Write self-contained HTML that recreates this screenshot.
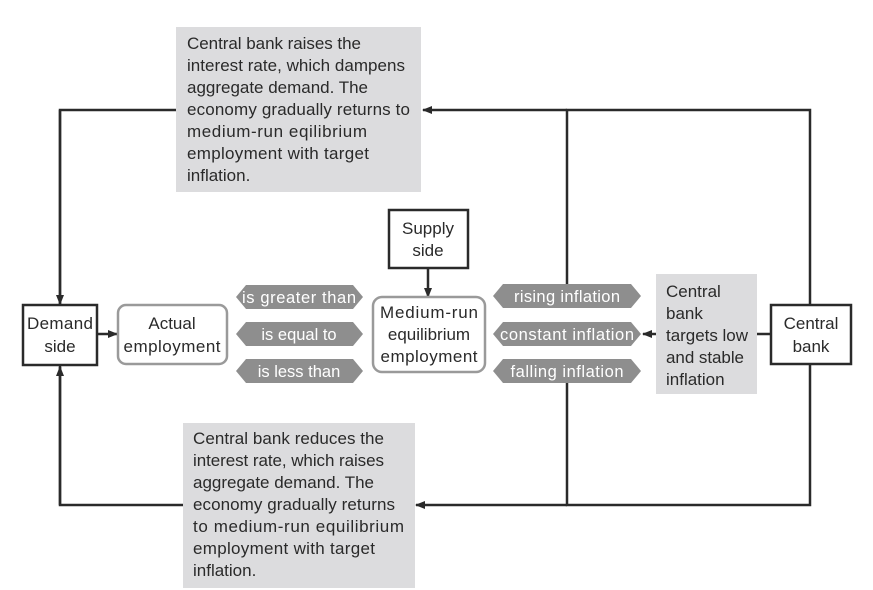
<!DOCTYPE html>
<html><head><meta charset="utf-8"><style>
html,body{margin:0;padding:0;background:#fff}
svg{display:block}
text{font-family:"Liberation Sans",sans-serif;fill:#2a2a2a;font-size:17px}
.w{fill:#fff;font-size:16.5px}
</style></head><body>
<svg width="873" height="590" viewBox="0 0 873 590">
<defs>
<marker id="a" viewBox="0 0 10 10" refX="9" refY="5" markerWidth="10" markerHeight="10" markerUnits="userSpaceOnUse" orient="auto"><path d="M0,1 L10,5 L0,9 z" fill="#2a2a2a"/></marker>
</defs>
<g stroke="#2a2a2a" stroke-width="2.5" fill="none">
<polyline points="60,304 60,110 176,110"/>
<polyline points="567,285 567,110 810,110 810,305"/>
<line x1="567" y1="110" x2="423" y2="110" marker-end="url(#a)"/>
<polyline points="60,366 60,505 183,505" />
<line x1="60" y1="505" x2="60" y2="367" marker-end="url(#a)"/>
<line x1="60" y1="110" x2="60" y2="304" marker-end="url(#a)"/>
<polyline points="567,383 567,505 810,505 810,365"/>
<line x1="567" y1="505" x2="416" y2="505" marker-end="url(#a)"/>
<line x1="97" y1="334" x2="117" y2="334" marker-end="url(#a)"/>
<line x1="428" y1="268" x2="428" y2="297" marker-end="url(#a)"/>
<line x1="656" y1="334" x2="643" y2="334" marker-end="url(#a)"/>
<line x1="757" y1="334" x2="771" y2="334"/>
</g>
<rect x="176" y="27" width="245" height="165" fill="#dcdcde"/>
<g>
<text x="187" y="49" textLength="174">Central bank raises the</text>
<text x="187" y="71" textLength="218">interest rate, which dampens</text>
<text x="187" y="93" textLength="181">aggregate demand. The</text>
<text x="187" y="115" textLength="223">economy gradually returns to</text>
<text x="187" y="137" textLength="180">medium-run eqilibrium</text>
<text x="187" y="159" textLength="182">employment with target</text>
<text x="187" y="181">inflation.</text>
</g>
<rect x="183" y="423" width="232" height="165" fill="#dcdcde"/>
<g>
<text x="193" y="444" textLength="191">Central bank reduces the</text>
<text x="193" y="466" textLength="191">interest rate, which raises</text>
<text x="193" y="488" textLength="181">aggregate demand. The</text>
<text x="193" y="510" textLength="202">economy gradually returns</text>
<text x="193" y="532" textLength="211">to medium-run equilibrium</text>
<text x="193" y="554" textLength="182">employment with target</text>
<text x="193" y="576">inflation.</text>
</g>
<rect x="656" y="274" width="101" height="120" fill="#dcdcde"/>
<text x="666" y="297">Central</text>
<text x="666" y="319">bank</text>
<text x="666" y="341" textLength="82">targets low</text>
<text x="666" y="363" textLength="78">and stable</text>
<text x="666" y="385">inflation</text>
<rect x="23" y="305" width="74" height="60" fill="#fff" stroke="#2a2a2a" stroke-width="2.5"/>
<text x="60" y="329" text-anchor="middle" textLength="66">Demand</text>
<text x="60" y="352" text-anchor="middle">side</text>
<rect x="118" y="305" width="109" height="59" rx="8" fill="#fff" stroke="#9a9a9a" stroke-width="2.5"/>
<text x="172" y="329" text-anchor="middle">Actual</text>
<text x="172" y="352" text-anchor="middle" textLength="97">employment</text>
<rect x="389" y="210" width="79" height="58" fill="#fff" stroke="#2a2a2a" stroke-width="2.5"/>
<text x="428" y="234" text-anchor="middle">Supply</text>
<text x="428" y="256" text-anchor="middle">side</text>
<rect x="373" y="297" width="112" height="75" rx="9" fill="#fff" stroke="#9a9a9a" stroke-width="2.5"/>
<text x="429" y="318" text-anchor="middle" textLength="98">Medium-run</text>
<text x="429" y="340" text-anchor="middle">equilibrium</text>
<text x="429" y="362" text-anchor="middle" textLength="97">employment</text>
<rect x="771" y="305" width="80" height="59" fill="#fff" stroke="#2a2a2a" stroke-width="2.5"/>
<text x="811" y="329" text-anchor="middle">Central</text>
<text x="811" y="352" text-anchor="middle">bank</text>
<g fill="#8e8e8e">
<polygon points="236,297 246,285 353,285 363,297 353,309 246,309"/>
<polygon points="236,334 246,322 353,322 363,334 353,346 246,346"/>
<polygon points="236,371 246,359 353,359 363,371 353,383 246,383"/>
<polygon points="493,296 503,284 631,284 641,296 631,308 503,308"/>
<polygon points="493,334 503,322 631,322 641,334 631,346 503,346"/>
<polygon points="493,371 503,359 631,359 641,371 631,383 503,383"/>
</g>
<text class="w" x="299" y="303" text-anchor="middle" textLength="114">is greater than</text>
<text class="w" x="299" y="340" text-anchor="middle">is equal to</text>
<text class="w" x="299" y="377" text-anchor="middle">is less than</text>
<text class="w" x="567" y="302" text-anchor="middle" textLength="106">rising inflation</text>
<text class="w" x="567" y="340" text-anchor="middle" textLength="134">constant inflation</text>
<text class="w" x="567" y="377" text-anchor="middle" textLength="113">falling inflation</text>
</svg>
</body></html>
